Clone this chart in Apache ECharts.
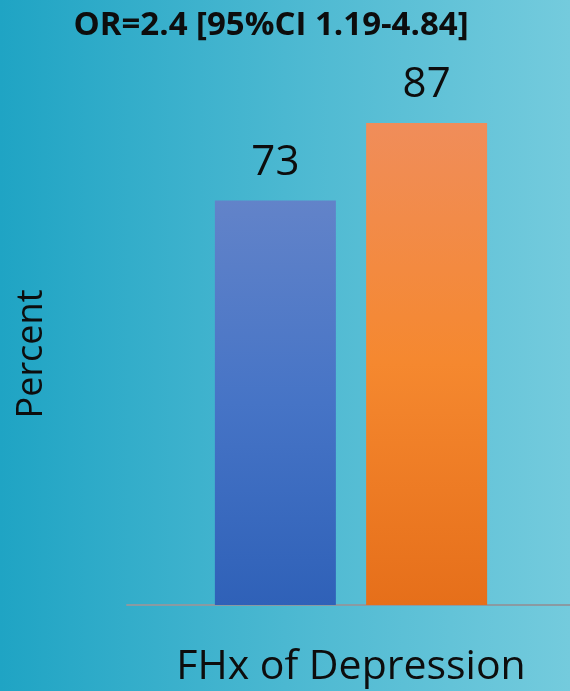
<!DOCTYPE html>
<html>
<head>
<meta charset="utf-8">
<script src="https://cdn.jsdelivr.net/npm/echarts@6/dist/echarts.min.js"></script>
<style>
html,body{margin:0;padding:0;}
#chart{width:570px;height:691px;}
</style>
</head>
<body>
<div id="chart"></div>
<script>
var categories = ['FHx of Depression'];
var seriesNames = ['No FHx', 'FHx'];
var valuesNo = [73];
var valuesYes = [87];
var titleText = 'OR=2.4 [95%CI 1.19-4.84]';
var yAxisName = 'Percent';

var chart = echarts.init(document.getElementById('chart'), null, {renderer: 'canvas'});
function grad(stops) {
  return new echarts.graphic.LinearGradient(0, 0, 0, 1, stops);
}
var option = {
  backgroundColor: new echarts.graphic.LinearGradient(0, 0, 1, 0, [
    {offset: 0, color: '#1fa4c4'},
    {offset: 0.5, color: '#4bb8d1'},
    {offset: 1, color: '#74cbdd'}
  ]),
  animation: false,
  graphic: [{
    type: 'text',
    x: 271,
    y: 26,
    style: {
      text: titleText,
      font: 'bold 33px "Open Sans"',
      fill: '#0d0d0d',
      align: 'center',
      verticalAlign: 'middle'
    }
  }, {
    type: 'text',
    x: 32,
    y: 354,
    rotation: Math.PI / 2,
    style: {
      text: yAxisName,
      font: '36px "Open Sans"',
      fill: '#0d0d0d',
      align: 'center',
      verticalAlign: 'middle'
    }
  }],
  grid: {left: 127, right: -5, top: 51, bottom: 86, containLabel: false, outerBoundsMode: 'none'},
  xAxis: {
    type: 'category',
    data: categories,
    name: categories[0],
    nameLocation: 'middle',
    nameGap: 42,
    nameTextStyle: {fontFamily: 'Open Sans', fontSize: 41, color: '#0d0d0d'},
    axisLine: {lineStyle: {color: '#8a9aa2', width: 2}},
    axisTick: {show: false},
    axisLabel: {show: false}
  },
  yAxis: {
    type: 'value',
    min: 0,
    max: 100,
    axisLine: {show: false},
    axisTick: {show: false},
    axisLabel: {show: false},
    splitLine: {show: false}
  },
  series: [{
    name: seriesNames[0],
    type: 'bar',
    data: valuesNo,
    barWidth: 121,
    barGap: '25%',
    itemStyle: {color: grad([{offset: 0, color: '#6283c9'}, {offset: 0.5, color: '#4674c6'}, {offset: 1, color: '#2f61b8'}])},
    label: {show: true, position: 'top', distance: 17, fontFamily: 'Open Sans', fontSize: 42, color: '#0d0d0d'}
  }, {
    name: seriesNames[1],
    type: 'bar',
    data: valuesYes,
    barWidth: 121,
    barGap: '25%',
    itemStyle: {color: grad([{offset: 0, color: '#f08d5a'}, {offset: 0.5, color: '#f5882f'}, {offset: 1, color: '#e66f1a'}])},
    label: {show: true, position: 'top', distance: 17, fontFamily: 'Open Sans', fontSize: 42, color: '#0d0d0d'}
  }]
};
chart.setOption(option);
</script>
</body>
</html>
